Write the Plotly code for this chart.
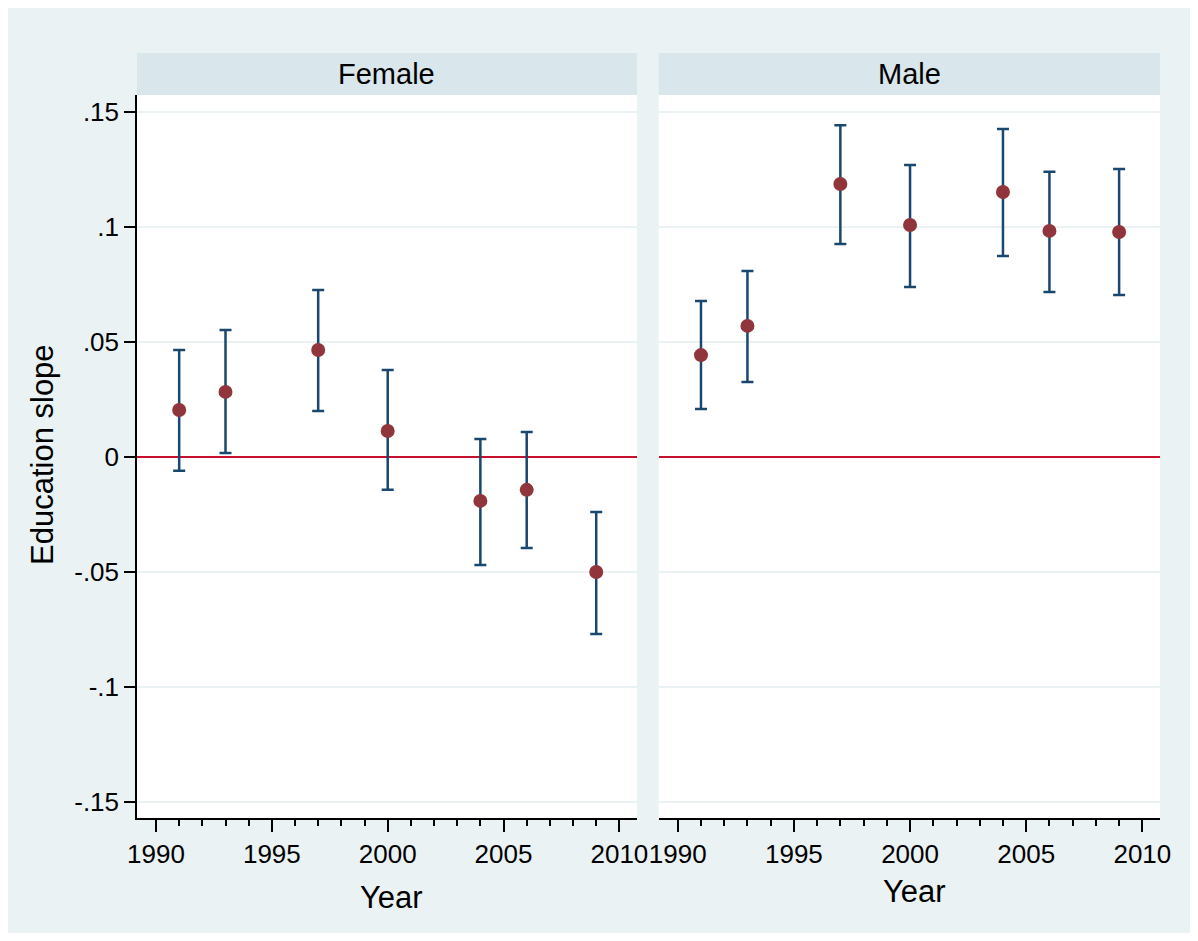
import plotly.graph_objects as go

# ---- data ----
years = [1991, 1993, 1997, 2000, 2004, 2006, 2009]
female_est = [0.0204, 0.0283, 0.0465, 0.0113, -0.0191, -0.0143, -0.0500]
female_lo = [-0.0060, 0.0017, 0.0200, -0.0143, -0.0470, -0.0396, -0.0770]
female_hi = [0.0465, 0.0552, 0.0726, 0.0378, 0.0078, 0.0109, -0.0239]
male_est = [0.0443, 0.0570, 0.1187, 0.1009, 0.1152, 0.0983, 0.0978]
male_lo = [0.0209, 0.0326, 0.0926, 0.0739, 0.0874, 0.0717, 0.0704]
male_hi = [0.0678, 0.0809, 0.1443, 0.1270, 0.1426, 0.1240, 0.1252]
panels = ["Female", "Male"]
ytick_vals = [0.15, 0.10, 0.05, 0.0, -0.05, -0.10, -0.15]
ytick_text = [".15", ".1", ".05", "0", "-.05", "-.1", "-.15"]
xtick_vals = [1990, 1995, 2000, 2005, 2010]

# figure sits inside the page's 8px body margin, which provides the white frame
OFF = 8
W, H = 1198 - 2 * OFF, 941 - 2 * OFF
FONT = "Liberation Sans, Arial, sans-serif"
NAVY = "#1A476F"
MAROON = "#90353B"
BG = "#EAF2F3"
STRIP = "#D9E6EB"
RED = "#C8102E"

def px(x):
    return (x - OFF) / W

def py(y):
    return 1 - (y - OFF) / H

fig = go.Figure()
series = [(female_est, female_lo, female_hi, "x", "y"), (male_est, male_lo, male_hi, "x2", "y2")]
for est, lo, hi, xa, ya in series:
    fig.add_trace(go.Scatter(
        x=years, y=est, mode="markers",
        marker=dict(color=MAROON, size=14),
        error_y=dict(type="data", symmetric=False,
                     array=[h - e for h, e in zip(hi, est)],
                     arrayminus=[e - l for e, l in zip(est, lo)],
                     color=NAVY, thickness=2.5, width=6),
        xaxis=xa, yaxis=ya, showlegend=False,
    ))

xdom1 = [px(137), px(637)]
xdom2 = [px(658.7), px(1160)]
ydom = [py(818), py(95)]
xrange_ = [1989.18, 2010.76]
yrange_ = [-0.157, 0.1574]

xcommon = dict(range=xrange_, tickvals=xtick_vals, ticks="outside", ticklen=12, tickwidth=1.5,
               tickcolor="black", showline=True, linecolor="black", linewidth=1.5,
               showgrid=False, zeroline=False, automargin=False,
               tickfont=dict(size=26, color="black", family=FONT),
               minor=dict(dtick=1, tick0=1990, ticks="outside", ticklen=6, tickwidth=1.5,
                          tickcolor="black", showgrid=False),
               fixedrange=True)
ycommon = dict(range=yrange_, tickvals=ytick_vals, ticktext=ytick_text, showgrid=True,
               gridcolor=BG, gridwidth=2, zeroline=True, zerolinecolor=RED, zerolinewidth=2,
               automargin=False, fixedrange=True)

fig.update_layout(
    width=W, height=H, autosize=False,
    margin=dict(l=0, r=0, t=0, b=0, pad=0),
    paper_bgcolor=BG, plot_bgcolor="white",
    font=dict(family=FONT, color="black"),
    xaxis=dict(domain=xdom1, anchor="y", **xcommon),
    xaxis2=dict(domain=xdom2, anchor="y2", **xcommon),
    yaxis=dict(domain=ydom, anchor="x", ticks="outside", ticklen=11, tickwidth=1.5,
               tickcolor="black", showline=True, linecolor="black", linewidth=1.5,
               tickfont=dict(size=26, color="black", family=FONT), **ycommon),
    yaxis2=dict(domain=ydom, anchor="x2", showticklabels=False, ticks="",
                showline=False, **ycommon),
)

# strip headers
for dom, name in [(xdom1, panels[0]), (xdom2, panels[1])]:
    fig.add_shape(type="rect", xref="paper", yref="paper", x0=dom[0], x1=dom[1],
                  y0=py(95), y1=py(53), fillcolor=STRIP, line=dict(width=0), layer="below")
    fig.add_annotation(text=name, xref="paper", yref="paper", x=(dom[0] + dom[1]) / 2,
                       y=py(74), showarrow=False, xanchor="center", yanchor="middle",
                       font=dict(size=29, color="black", family=FONT))

# axis titles
fig.add_annotation(text="Education slope", xref="paper", yref="paper", x=px(43), y=py(455),
                   textangle=-90, showarrow=False, xanchor="center", yanchor="middle",
                   font=dict(size=31, color="black", family=FONT))
fig.add_annotation(text="Year", xref="paper", yref="paper", x=px(392), y=py(897),
                   showarrow=False, xanchor="center", yanchor="middle",
                   font=dict(size=31, color="black", family=FONT))
fig.add_annotation(text="Year", xref="paper", yref="paper", x=px(914), y=py(891),
                   showarrow=False, xanchor="center", yanchor="middle",
                   font=dict(size=31, color="black", family=FONT))

fig.write_html("out.html")
